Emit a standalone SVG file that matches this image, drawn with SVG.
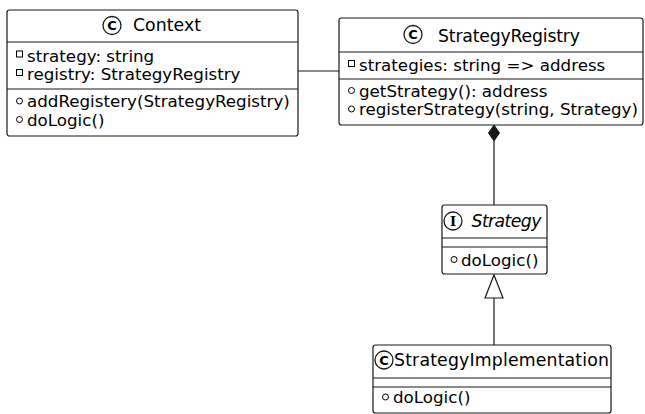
<svg xmlns="http://www.w3.org/2000/svg" width="645" height="414" viewBox="0 0 645 414">
<style>
.box{fill:#fff;stroke:#181818;stroke-width:1.2}
.sep{stroke:#181818;stroke-width:1.2}
.t{font-family:"DejaVu Sans",sans-serif;font-size:17.3px;fill:#000}
.m{font-family:"DejaVu Sans",sans-serif;font-size:16.7px;fill:#000}
.ic{fill:#fff;stroke:#181818;stroke-width:1.3}
.il{font-family:"DejaVu Sans",sans-serif;font-size:13px;font-weight:bold;fill:#000;text-anchor:middle}
.ii{font-family:"DejaVu Serif",serif;font-size:13px;font-weight:bold;fill:#000;text-anchor:middle}
.priv{fill:none;stroke:#000;stroke-width:1}
.pub{fill:none;stroke:#000;stroke-width:1}
.ln{stroke:#181818;stroke-width:1.2;fill:none}
</style>
<rect width="645" height="414" fill="#fff"/>
<g id="connectors">
<line class="ln" x1="298" y1="71" x2="339" y2="71"/>
<line class="ln" x1="494" y1="141" x2="494" y2="205"/>
<polygon points="494,125 499.5,133 494,141 488.5,133" fill="#181818" stroke="#181818" stroke-width="1"/>
<line class="ln" x1="494" y1="298" x2="494" y2="345"/>
<polygon points="494,275 503,298 485,298" fill="#fff" stroke="#181818" stroke-width="1.2"/>
</g>
<g id="Context">
<rect class="box" x="7" y="10" width="291" height="126" rx="2.5"/>
<line class="sep" x1="7" y1="42" x2="298" y2="42"/>
<line class="sep" x1="7" y1="89" x2="298" y2="89"/>
<circle class="ic" cx="112" cy="25.5" r="9"/>
<text class="il" x="112" y="30.2">C</text>
<text class="t" x="133" y="31" textLength="68" lengthAdjust="spacing">Context</text>
<rect class="priv" x="16.5" y="51" width="6" height="6"/>
<text class="m" x="27" y="61.5">strategy: string</text>
<rect class="priv" x="16.5" y="69.5" width="6" height="6"/>
<text class="m" x="27" y="80">registry: StrategyRegistry</text>
<circle class="pub" cx="19.5" cy="101" r="3"/>
<text class="m" x="27" y="107">addRegistery(StrategyRegistry)</text>
<circle class="pub" cx="19.5" cy="119.5" r="3"/>
<text class="m" x="27" y="125.5">doLogic()</text>
</g>
<g id="StrategyRegistry">
<rect class="box" x="339" y="18" width="304" height="107" rx="2.5"/>
<line class="sep" x1="339" y1="52" x2="643" y2="52"/>
<line class="sep" x1="339" y1="79" x2="643" y2="79"/>
<circle class="ic" cx="413" cy="34.5" r="9"/>
<text class="il" x="413" y="39.2">C</text>
<text class="t" x="438" y="42" textLength="142" lengthAdjust="spacing">StrategyRegistry</text>
<rect class="priv" x="348.5" y="60.5" width="6" height="6"/>
<text class="m" x="359" y="71">strategies: string =&gt; address</text>
<circle class="pub" cx="351.5" cy="90.5" r="3"/>
<text class="m" x="359" y="96.5">getStrategy(): address</text>
<circle class="pub" cx="351.5" cy="109" r="3"/>
<text class="m" x="359" y="115">registerStrategy(string, Strategy)</text>
</g>
<g id="Strategy">
<rect class="box" x="442" y="205" width="105" height="69" rx="2.5"/>
<line class="sep" x1="442" y1="238" x2="547" y2="238"/>
<line class="sep" x1="442" y1="247" x2="547" y2="247"/>
<circle class="ic" cx="453" cy="221" r="9"/>
<text class="ii" x="453" y="225.7">I</text>
<text class="t" x="471.5" y="227" font-style="italic" textLength="70" lengthAdjust="spacing">Strategy</text>
<circle class="pub" cx="454" cy="259.5" r="3"/>
<text class="m" x="461" y="265.5">doLogic()</text>
</g>
<g id="StrategyImplementation">
<rect class="box" x="373" y="345" width="238" height="68" rx="2.5"/>
<line class="sep" x1="373" y1="378" x2="611" y2="378"/>
<line class="sep" x1="373" y1="387" x2="611" y2="387"/>
<circle class="ic" cx="384" cy="360" r="9"/>
<text class="il" x="384" y="364.7">C</text>
<text class="t" x="394" y="366" textLength="215" lengthAdjust="spacing">StrategyImplementation</text>
<circle class="pub" cx="385.5" cy="397" r="3"/>
<text class="m" x="393" y="403">doLogic()</text>
</g>
</svg>
